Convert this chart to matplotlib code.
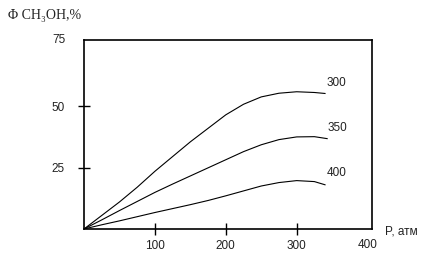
import numpy as np
import matplotlib
matplotlib.use('Agg')
import matplotlib.pyplot as plt

# давление, атм и выход метанола, % при разных температурах
p_300 = [0, 25, 50, 75, 100, 125, 150, 175, 200, 225, 250, 275, 300, 325, 340]
y_300 = [0, 5.5, 11, 17, 23.5, 29.5, 35.5, 41, 46.5, 50.8, 53.8, 55.3, 55.9, 55.6, 55.2]

p_350 = [0, 25, 50, 75, 100, 125, 150, 175, 200, 225, 250, 275, 300, 325, 343]
y_350 = [0, 3.7, 7.5, 11.2, 14.9, 18.3, 21.6, 24.9, 28.2, 31.5, 34.3, 36.4, 37.5, 37.6, 36.8]

p_400 = [0, 25, 50, 75, 100, 125, 150, 175, 200, 225, 250, 275, 300, 325, 340]
y_400 = [0, 1.7, 3.3, 5, 6.7, 8.3, 9.9, 11.6, 13.5, 15.5, 17.5, 18.9, 19.7, 19.3, 18]

temps = ['300', '350', '400']
label_pos = [(356, 59.5), (358, 41), (356, 23)]

xticks = [100, 200, 300]
yticks = [25, 50]

plt.rcParams['font.family'] = ['Liberation Sans', 'DejaVu Sans']

fig = plt.figure(figsize=(4.4, 2.7), dpi=100)
ax = fig.add_axes([0.191, 0.152, 0.654, 0.7])

for px, py in [(p_300, y_300), (p_350, y_350), (p_400, y_400)]:
    ax.plot(px, py, color='black', lw=0.8)

for t, (lx, ly) in zip(temps, label_pos):
    ax.text(lx, ly, t, fontsize=8.5, ha='center', va='center', color='#222222')

ax.set_xlim(0, 406)
ax.set_ylim(0, 77)
ax.set_xticks(xticks)
ax.set_yticks(yticks)
ax.tick_params(direction='inout', length=8, width=1, labelsize=8.5, labelcolor='#222222')
ax.tick_params(axis='y', pad=10)
ax.tick_params(axis='x', pad=4)
for s in ax.spines.values():
    s.set_linewidth(1.2)

# подписи на краях осей без засечек
ax.text(-0.087, 1.0, '75', transform=ax.transAxes, fontsize=8.5, ha='center', va='center', color='#222222')
ax.text(0.987, -0.085, '400', transform=ax.transAxes, fontsize=8.5, ha='center', va='center', color='#222222')

fig.text(385 / 440, 1 - 232 / 270, 'P, атм', fontsize=8.5, ha='left', va='center', color='#222222')
fig.text(8 / 440, 1 - 16 / 270, 'Φ CH₃OH,%', fontsize=10,
         family=['Liberation Serif', 'DejaVu Serif'], ha='left', va='center', color='#222222')

fig.savefig('out.png', dpi=100)
